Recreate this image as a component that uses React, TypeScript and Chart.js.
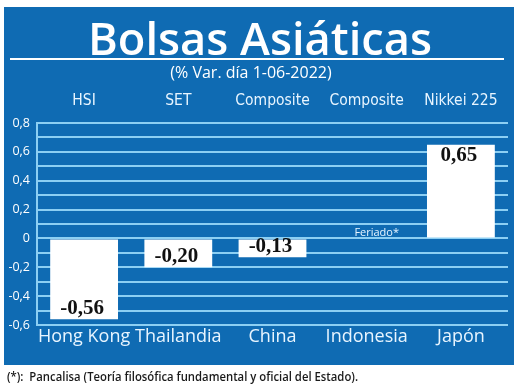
import React, { useEffect, useRef } from "react";
import { Chart, registerables } from "chart.js";

Chart.register(...registerables);

const countries = ["Hong Kong", "Thailandia", "China", "Indonesia", "Japón"];
const indices = ["HSI", "SET", "Composite", "Composite", "Nikkei 225"];
const variations: (number | null)[] = [-0.56, -0.2, -0.13, null, 0.65];
const holidayNote = "Feriado*";
const holidayIndex = 3;
const yMin = -0.6;
const yMax = 0.8;
const yStep = 0.1;
const titleText = "Bolsas Asiáticas";
const subtitleText = "(% Var. día 1-06-2022)";
const footnoteText = "(*):  Pancalisa (Teoría filosófica fundamental y oficial del Estado).";

const BLUE = "#0f6bb3";
const GRID = "#8ccff3";
const LIGHT = "#e8f5ff";

const fmt = (v: number) => v.toFixed(2).replace(".", ",");

export default function App() {
  const ref = useRef<HTMLCanvasElement | null>(null);

  useEffect(() => {
    if (!ref.current) return;

    const decor = {
      id: "decor",
      beforeDraw(chart: any) {
        const ctx = chart.ctx;
        ctx.save();
        ctx.fillStyle = "#ffffff";
        ctx.fillRect(0, 0, 520, 390);
        ctx.fillStyle = BLUE;
        ctx.fillRect(4, 7, 510, 358);
        ctx.fillStyle = "#ffffff";
        ctx.textAlign = "center";
        ctx.textBaseline = "alphabetic";
        ctx.font = "600 46px 'Open Sans'";
        ctx.fillText(titleText, 260, 55, 344);
        ctx.fillRect(10, 58, 494, 2);
        ctx.font = "16px 'Open Sans'";
        ctx.fillText(subtitleText, 251, 78);
        ctx.fillStyle = "#1a1a1a";
        ctx.textAlign = "left";
        ctx.font = "600 12px 'Open Sans'";
        ctx.fillText(footnoteText, 7, 381, 351);
        ctx.restore();
      },
    };

    const valueLabels = {
      id: "valueLabels",
      afterDatasetsDraw(chart: any) {
        const ctx = chart.ctx;
        const meta = chart.getDatasetMeta(0);
        const xs = chart.scales.x;
        const ys = chart.scales.y;
        ctx.save();
        ctx.textAlign = "center";
        ctx.textBaseline = "middle";
        variations.forEach((v, i) => {
          if (v == null) return;
          const bar = meta.data[i];
          ctx.font = "bold 21px 'Liberation Serif'";
          ctx.fillStyle = "#111111";
          ctx.fillText(fmt(v), bar.x - 2, bar.y + (v < 0 ? -11 : 11));
        });
        ctx.font = "11px 'Open Sans'";
        ctx.fillStyle = LIGHT;
        ctx.fillText(holidayNote, xs.getPixelForValue(holidayIndex) + 10, ys.getPixelForValue(0) - 6);
        ctx.restore();
      },
    };

    const chart = new Chart(ref.current, {
      type: "bar",
      data: {
        labels: countries,
        datasets: [
          {
            data: variations as any,
            backgroundColor: "#ffffff",
            borderWidth: 0,
            barPercentage: 0.72,
            categoryPercentage: 1,
            xAxisID: "x",
            yAxisID: "y",
          },
        ],
      },
      options: {
        responsive: false,
        animation: false,
        devicePixelRatio: 1,
        layout: { padding: { left: 0, top: 80, right: 12, bottom: 25 } },
        plugins: {
          legend: { display: false },
          tooltip: { enabled: false },
          title: { display: false },
        },
        scales: {
          x: {
            type: "category",
            position: "bottom",
            offset: true,
            grid: { display: false, drawTicks: false },
            border: { display: false },
            ticks: {
              color: LIGHT,
              font: { family: "'Open Sans'", size: 18, lineHeight: 1 },
              padding: 3,
              maxRotation: 0,
              autoSkip: false,
            },
            afterFit: (s: any) => {
              s.height = 40;
            },
          },
          x2: {
            type: "category",
            position: "top",
            labels: indices,
            offset: true,
            grid: { display: false, drawTicks: false },
            border: { display: false },
            ticks: {
              color: LIGHT,
              font: { family: "'DejaVu Sans Condensed', 'Liberation Sans Narrow', sans-serif", size: 15.5, lineHeight: 1 },
              padding: 14,
              maxRotation: 0,
              autoSkip: false,
            },
            afterFit: (s: any) => {
              s.height = 43;
            },
          },
          y: {
            type: "linear",
            min: yMin,
            max: yMax,
            grid: { color: GRID, lineWidth: 2, drawTicks: false },
            border: { display: true, color: GRID, width: 2 },
            ticks: {
              stepSize: yStep,
              color: "#ffffff",
              font: { family: "'Open Sans'", size: 12.5 },
              padding: 7,
              autoSkip: false,
              callback: (v: any) => {
                const n = Math.round(Number(v) * 10);
                if (n % 2 !== 0) return "";
                return n === 0 ? "0" : (n / 10).toFixed(1).replace(".", ",");
              },
            },
            afterFit: (s: any) => {
              s.width = 37;
            },
          },
        },
      },
      plugins: [decor, valueLabels],
    });

    return () => chart.destroy();
  }, []);

  return (
    <div style={{ position: "absolute", left: 0, top: 0, width: 520, height: 390 }}>
      <canvas ref={ref} width={520} height={390} style={{ width: 520, height: 390, display: "block" }} />
    </div>
  );
}
